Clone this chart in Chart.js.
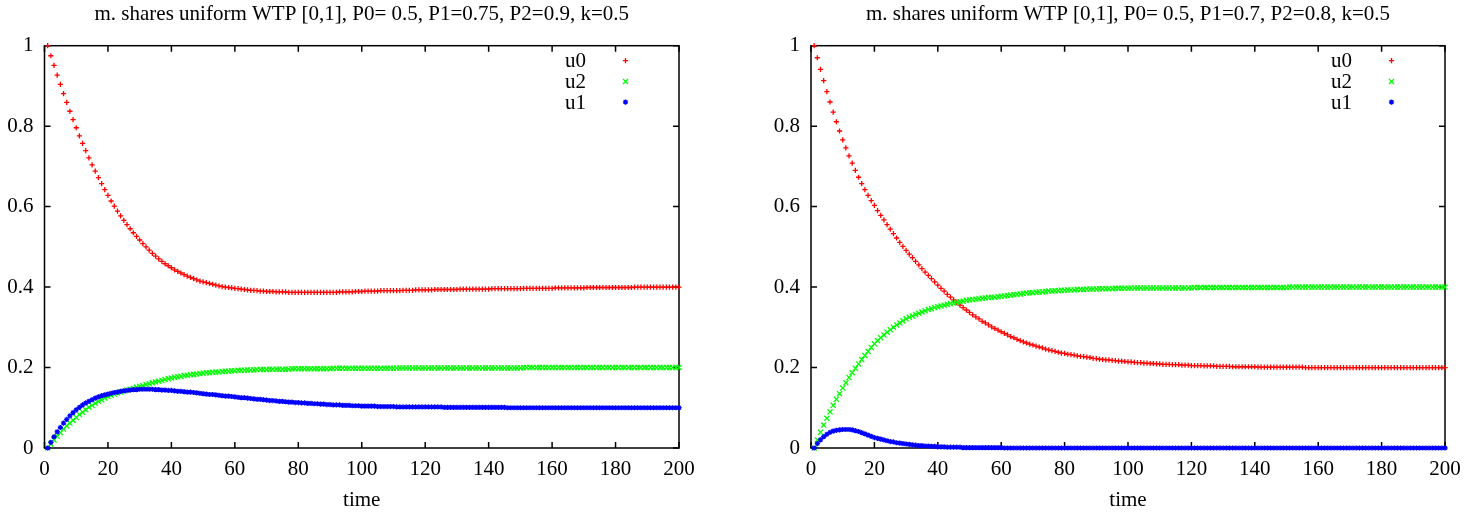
<!DOCTYPE html>
<html>
<head>
<meta charset="utf-8">
<script src="https://cdn.jsdelivr.net/npm/chart.js@4/dist/chart.umd.min.js"></script>
<style>
  html, body { margin: 0; background: #fff; }
  #wrap { position: relative; width: 1484px; height: 514px; }
  #wrap canvas { position: absolute; top: 0; }
</style>
</head>
<body>
<div id="wrap">
  <canvas id="chart-left" width="742" height="514" style="left:0"></canvas>
  <canvas id="chart-right" width="742" height="514" style="left:742px"></canvas>
</div>
<script>
// time step of the first sample; one sample per step after that
const firstStep = 1;
const xTicks = [0, 20, 40, 60, 80, 100, 120, 140, 160, 180, 200];
const yTicks = [0, 0.2, 0.4, 0.6, 0.8, 1];

const leftTitle = 'm. shares uniform WTP [0,1], P0= 0.5, P1=0.75, P2=0.9, k=0.5';
const rightTitle = 'm. shares uniform WTP [0,1], P0= 0.5, P1=0.7, P2=0.8, k=0.5';

// left panel
const leftU0 = [
  1, 0.975, 0.951, 0.927, 0.904, 0.881, 0.859, 0.837, 0.816, 0.796,
  0.776, 0.757, 0.739, 0.721, 0.704, 0.688, 0.672, 0.657, 0.642, 0.628,
  0.614, 0.601, 0.589, 0.577, 0.566, 0.555, 0.545, 0.535, 0.526, 0.517,
  0.508, 0.5, 0.492, 0.484, 0.477, 0.47, 0.464, 0.458, 0.453, 0.448,
  0.443, 0.439, 0.435, 0.431, 0.427, 0.424, 0.421, 0.418, 0.415, 0.413,
  0.411, 0.409, 0.407, 0.405, 0.403, 0.401, 0.4, 0.399, 0.398, 0.397,
  0.396, 0.395, 0.394, 0.393, 0.392, 0.392, 0.391, 0.39, 0.39, 0.389,
  0.389, 0.389, 0.388, 0.388, 0.388, 0.388, 0.387, 0.387, 0.387, 0.387,
  0.387, 0.387, 0.387, 0.387, 0.387, 0.387, 0.387, 0.387, 0.387, 0.387,
  0.387, 0.387, 0.388, 0.388, 0.388, 0.388, 0.388, 0.389, 0.389, 0.389,
  0.39, 0.39, 0.39, 0.39, 0.39, 0.391, 0.391, 0.391, 0.391, 0.391,
  0.391, 0.391, 0.392, 0.392, 0.392, 0.392, 0.393, 0.393, 0.393, 0.393,
  0.393, 0.393, 0.394, 0.394, 0.394, 0.394, 0.394, 0.394, 0.394, 0.394,
  0.395, 0.395, 0.395, 0.395, 0.395, 0.395, 0.395, 0.395, 0.395, 0.395,
  0.396, 0.396, 0.396, 0.396, 0.396, 0.396, 0.396, 0.396, 0.396, 0.396,
  0.397, 0.397, 0.397, 0.397, 0.397, 0.397, 0.397, 0.397, 0.397, 0.397,
  0.398, 0.398, 0.398, 0.398, 0.398, 0.398, 0.398, 0.398, 0.398, 0.398,
  0.399, 0.399, 0.399, 0.399, 0.399, 0.399, 0.399, 0.399, 0.399, 0.399,
  0.399, 0.399, 0.399, 0.399, 0.399, 0.4, 0.4, 0.4, 0.4, 0.4,
  0.4, 0.4, 0.4, 0.4, 0.4, 0.4, 0.4, 0.4, 0.4, 0.4,
];
const leftU2 = [
  0, 0.01, 0.02, 0.029, 0.038, 0.047, 0.055, 0.062, 0.069, 0.076,
  0.083, 0.089, 0.095, 0.101, 0.106, 0.111, 0.116, 0.12, 0.124, 0.128,
  0.131, 0.134, 0.137, 0.139, 0.141, 0.144, 0.146, 0.148, 0.151, 0.153,
  0.155, 0.158, 0.16, 0.162, 0.164, 0.166, 0.168, 0.17, 0.172, 0.174,
  0.176, 0.177, 0.178, 0.18, 0.181, 0.182, 0.183, 0.184, 0.185, 0.186,
  0.187, 0.187, 0.188, 0.189, 0.189, 0.19, 0.191, 0.191, 0.192, 0.192,
  0.193, 0.193, 0.193, 0.194, 0.194, 0.194, 0.195, 0.195, 0.195, 0.195,
  0.196, 0.196, 0.196, 0.196, 0.196, 0.196, 0.196, 0.197, 0.197, 0.197,
  0.197, 0.197, 0.197, 0.197, 0.197, 0.197, 0.197, 0.197, 0.197, 0.197,
  0.198, 0.198, 0.198, 0.198, 0.198, 0.198, 0.198, 0.198, 0.198, 0.198,
  0.198, 0.198, 0.198, 0.198, 0.198, 0.198, 0.198, 0.198, 0.198, 0.198,
  0.199, 0.199, 0.199, 0.199, 0.199, 0.199, 0.199, 0.199, 0.199, 0.199,
  0.199, 0.199, 0.199, 0.199, 0.199, 0.199, 0.199, 0.199, 0.199, 0.199,
  0.199, 0.199, 0.199, 0.199, 0.199, 0.199, 0.199, 0.199, 0.199, 0.199,
  0.199, 0.199, 0.199, 0.199, 0.199, 0.199, 0.199, 0.199, 0.199, 0.199,
  0.2, 0.2, 0.2, 0.2, 0.2, 0.2, 0.2, 0.2, 0.2, 0.2,
  0.2, 0.2, 0.2, 0.2, 0.2, 0.2, 0.2, 0.2, 0.2, 0.2,
  0.2, 0.2, 0.2, 0.2, 0.2, 0.2, 0.2, 0.2, 0.2, 0.2,
  0.2, 0.2, 0.2, 0.2, 0.2, 0.2, 0.2, 0.2, 0.2, 0.2,
  0.2, 0.2, 0.2, 0.2, 0.2, 0.2, 0.2, 0.2, 0.2, 0.2,
];
const leftU1 = [
  0, 0.014, 0.028, 0.04, 0.051, 0.062, 0.071, 0.08, 0.088, 0.095,
  0.101, 0.107, 0.112, 0.116, 0.12, 0.124, 0.127, 0.13, 0.132, 0.134,
  0.136, 0.138, 0.139, 0.141, 0.142, 0.143, 0.144, 0.145, 0.145, 0.146,
  0.146, 0.146, 0.146, 0.146, 0.145, 0.145, 0.144, 0.144, 0.143, 0.143,
  0.142, 0.141, 0.141, 0.14, 0.139, 0.139, 0.138, 0.137, 0.136, 0.135,
  0.134, 0.133, 0.133, 0.132, 0.131, 0.13, 0.129, 0.129, 0.128, 0.127,
  0.126, 0.125, 0.125, 0.124, 0.123, 0.122, 0.121, 0.121, 0.12, 0.119,
  0.118, 0.118, 0.117, 0.116, 0.116, 0.115, 0.114, 0.114, 0.113, 0.113,
  0.112, 0.112, 0.111, 0.111, 0.11, 0.11, 0.109, 0.109, 0.108, 0.108,
  0.107, 0.107, 0.107, 0.106, 0.106, 0.106, 0.105, 0.105, 0.105, 0.104,
  0.104, 0.104, 0.104, 0.104, 0.103, 0.103, 0.103, 0.103, 0.103, 0.103,
  0.102, 0.102, 0.102, 0.102, 0.102, 0.102, 0.102, 0.102, 0.102, 0.102,
  0.102, 0.102, 0.102, 0.102, 0.102, 0.101, 0.101, 0.101, 0.101, 0.101,
  0.101, 0.101, 0.101, 0.101, 0.101, 0.101, 0.101, 0.101, 0.101, 0.101,
  0.101, 0.101, 0.101, 0.101, 0.101, 0.1, 0.1, 0.1, 0.1, 0.1,
  0.1, 0.1, 0.1, 0.1, 0.1, 0.1, 0.1, 0.1, 0.1, 0.1,
  0.1, 0.1, 0.1, 0.1, 0.1, 0.1, 0.1, 0.1, 0.1, 0.1,
  0.1, 0.1, 0.1, 0.1, 0.1, 0.1, 0.1, 0.1, 0.1, 0.1,
  0.1, 0.1, 0.1, 0.1, 0.1, 0.1, 0.1, 0.1, 0.1, 0.1,
  0.1, 0.1, 0.1, 0.1, 0.1, 0.1, 0.1, 0.1, 0.1, 0.1,
];

// right panel
const rightU0 = [
  1, 0.97, 0.941, 0.913, 0.886, 0.86, 0.835, 0.811, 0.788, 0.766,
  0.746, 0.726, 0.708, 0.69, 0.673, 0.657, 0.642, 0.628, 0.615, 0.603,
  0.59, 0.578, 0.567, 0.555, 0.544, 0.533, 0.522, 0.511, 0.501, 0.491,
  0.482, 0.473, 0.464, 0.455, 0.446, 0.437, 0.429, 0.421, 0.413, 0.405,
  0.397, 0.39, 0.382, 0.375, 0.368, 0.362, 0.355, 0.349, 0.343, 0.337,
  0.331, 0.326, 0.321, 0.315, 0.311, 0.306, 0.301, 0.297, 0.293, 0.289,
  0.285, 0.281, 0.277, 0.274, 0.27, 0.267, 0.264, 0.261, 0.258, 0.256,
  0.253, 0.251, 0.249, 0.246, 0.244, 0.242, 0.24, 0.238, 0.236, 0.235,
  0.233, 0.232, 0.231, 0.229, 0.228, 0.227, 0.226, 0.225, 0.223, 0.222,
  0.221, 0.22, 0.219, 0.219, 0.218, 0.217, 0.216, 0.216, 0.215, 0.214,
  0.214, 0.213, 0.212, 0.212, 0.211, 0.211, 0.21, 0.21, 0.209, 0.209,
  0.208, 0.208, 0.208, 0.207, 0.207, 0.207, 0.206, 0.206, 0.206, 0.205,
  0.205, 0.205, 0.205, 0.204, 0.204, 0.204, 0.204, 0.203, 0.203, 0.203,
  0.203, 0.203, 0.202, 0.202, 0.202, 0.202, 0.202, 0.202, 0.202, 0.202,
  0.201, 0.201, 0.201, 0.201, 0.201, 0.201, 0.201, 0.201, 0.201, 0.201,
  0.201, 0.201, 0.201, 0.201, 0.201, 0.2, 0.2, 0.2, 0.2, 0.2,
  0.2, 0.2, 0.2, 0.2, 0.2, 0.2, 0.2, 0.2, 0.2, 0.2,
  0.2, 0.2, 0.2, 0.2, 0.2, 0.2, 0.2, 0.2, 0.2, 0.2,
  0.2, 0.2, 0.2, 0.2, 0.2, 0.2, 0.2, 0.2, 0.2, 0.2,
  0.2, 0.2, 0.2, 0.2, 0.2, 0.2, 0.2, 0.2, 0.2, 0.2,
];
const rightU2 = [
  0, 0.02, 0.039, 0.057, 0.074, 0.09, 0.106, 0.121, 0.135, 0.149,
  0.162, 0.175, 0.187, 0.198, 0.209, 0.22, 0.23, 0.24, 0.25, 0.259,
  0.267, 0.274, 0.281, 0.288, 0.294, 0.3, 0.306, 0.311, 0.316, 0.321,
  0.325, 0.328, 0.332, 0.335, 0.338, 0.341, 0.344, 0.346, 0.349, 0.351,
  0.353, 0.355, 0.357, 0.359, 0.36, 0.362, 0.364, 0.365, 0.367, 0.368,
  0.369, 0.37, 0.371, 0.372, 0.373, 0.374, 0.375, 0.375, 0.376, 0.377,
  0.378, 0.379, 0.38, 0.381, 0.382, 0.383, 0.384, 0.385, 0.386, 0.386,
  0.387, 0.388, 0.388, 0.389, 0.39, 0.39, 0.391, 0.391, 0.392, 0.392,
  0.393, 0.393, 0.393, 0.394, 0.394, 0.394, 0.395, 0.395, 0.395, 0.395,
  0.396, 0.396, 0.396, 0.396, 0.396, 0.397, 0.397, 0.397, 0.397, 0.397,
  0.398, 0.398, 0.398, 0.398, 0.398, 0.398, 0.398, 0.398, 0.398, 0.398,
  0.398, 0.398, 0.398, 0.398, 0.398, 0.398, 0.398, 0.398, 0.398, 0.398,
  0.399, 0.399, 0.399, 0.399, 0.399, 0.399, 0.399, 0.399, 0.399, 0.399,
  0.399, 0.399, 0.399, 0.399, 0.399, 0.399, 0.399, 0.399, 0.399, 0.399,
  0.399, 0.399, 0.399, 0.399, 0.399, 0.399, 0.399, 0.399, 0.399, 0.399,
  0.4, 0.4, 0.4, 0.4, 0.4, 0.4, 0.4, 0.4, 0.4, 0.4,
  0.4, 0.4, 0.4, 0.4, 0.4, 0.4, 0.4, 0.4, 0.4, 0.4,
  0.4, 0.4, 0.4, 0.4, 0.4, 0.4, 0.4, 0.4, 0.4, 0.4,
  0.4, 0.4, 0.4, 0.4, 0.4, 0.4, 0.4, 0.4, 0.4, 0.4,
  0.4, 0.4, 0.4, 0.4, 0.4, 0.4, 0.4, 0.4, 0.4, 0.4,
];
const rightU1 = [
  0, 0.011, 0.02, 0.028, 0.034, 0.039, 0.042, 0.044, 0.045, 0.046,
  0.046, 0.046, 0.045, 0.043, 0.041, 0.038, 0.035, 0.032, 0.029, 0.026,
  0.024, 0.022, 0.02, 0.018, 0.016, 0.015, 0.013, 0.012, 0.011, 0.01,
  0.009, 0.008, 0.007, 0.006, 0.006, 0.005, 0.005, 0.004, 0.004, 0.003,
  0.003, 0.003, 0.002, 0.002, 0.002, 0.002, 0.002, 0.001, 0.001, 0.001,
  0.001, 0.001, 0.001, 0.001, 0.001, 0.001, 0.001, 0.001, 0.001, 0.001,
  0, 0, 0, 0, 0, 0, 0, 0, 0, 0,
  0, 0, 0, 0, 0, 0, 0, 0, 0, 0,
  0, 0, 0, 0, 0, 0, 0, 0, 0, 0,
  0, 0, 0, 0, 0, 0, 0, 0, 0, 0,
  0, 0, 0, 0, 0, 0, 0, 0, 0, 0,
  0, 0, 0, 0, 0, 0, 0, 0, 0, 0,
  0, 0, 0, 0, 0, 0, 0, 0, 0, 0,
  0, 0, 0, 0, 0, 0, 0, 0, 0, 0,
  0, 0, 0, 0, 0, 0, 0, 0, 0, 0,
  0, 0, 0, 0, 0, 0, 0, 0, 0, 0,
  0, 0, 0, 0, 0, 0, 0, 0, 0, 0,
  0, 0, 0, 0, 0, 0, 0, 0, 0, 0,
  0, 0, 0, 0, 0, 0, 0, 0, 0, 0,
  0, 0, 0, 0, 0, 0, 0, 0, 0, 0,
];

const SERIF = "'Liberation Serif', 'Times New Roman', Times, serif";
const FONT = { family: SERIF, size: 21, weight: 'normal' };
const TICK_LEN = 6;

Chart.defaults.font.family = SERIF;
Chart.defaults.color = '#000';

function points(values) {
  return values.map((v, i) => ({ x: firstStep + i, y: v }));
}

function series(label, values, color, style, radius, width, order) {
  return {
    label,
    data: points(values),
    pointStyle: style,
    pointRadius: radius,
    pointHoverRadius: radius,
    pointBorderWidth: width,
    borderColor: color,
    backgroundColor: color,
    showLine: false,
    clip: false,
    order,
  };
}

// gnuplot-style box with inward ticks on all four sides
const framePlugin = {
  id: 'frame',
  beforeDatasetsDraw(chart) {
    const { ctx, chartArea: a, scales: { x, y } } = chart;
    ctx.save();
    ctx.strokeStyle = '#000';
    ctx.lineWidth = 1.5;
    ctx.strokeRect(a.left, a.top, a.right - a.left, a.bottom - a.top);
    ctx.beginPath();
    for (const v of xTicks) {
      const px = x.getPixelForValue(v);
      ctx.moveTo(px, a.bottom); ctx.lineTo(px, a.bottom - TICK_LEN);
      ctx.moveTo(px, a.top); ctx.lineTo(px, a.top + TICK_LEN);
    }
    for (const v of yTicks) {
      const py = y.getPixelForValue(v);
      ctx.moveTo(a.left, py); ctx.lineTo(a.left + TICK_LEN, py);
      ctx.moveTo(a.right, py); ctx.lineTo(a.right - TICK_LEN, py);
    }
    ctx.stroke();
    ctx.restore();
  },
};

// key in the top right corner: label, then a sample of the point
const keyPlugin = {
  id: 'key',
  afterDatasetsDraw(chart) {
    const { ctx, chartArea: a } = chart;
    ctx.save();
    ctx.font = `21px ${SERIF}`;
    ctx.textAlign = 'right';
    ctx.textBaseline = 'middle';
    chart.data.datasets.forEach((ds, i) => {
      const yy = a.top + 15 + i * 20.7;
      ctx.fillStyle = '#000';
      ctx.fillText(ds.label, a.right - 93, yy + 1);
      ctx.strokeStyle = ds.borderColor;
      ctx.fillStyle = ds.borderColor;
      ctx.lineWidth = ds.pointBorderWidth;
      Chart.helpers.drawPoint(ctx, {
        pointStyle: ds.pointStyle, radius: ds.pointRadius, rotation: 0, borderWidth: ds.pointBorderWidth,
      }, a.right - 53.5, yy);
    });
    ctx.restore();
  },
};

function makeChart(canvasId, title, u0, u2, u1, yAxisWidth, padRight) {
  return new Chart(document.getElementById(canvasId), {
    type: 'scatter',
    data: {
      datasets: [
        series('u0', u0, 'rgb(255,0,0)', 'cross', 2.6, 1.3, 3),
        series('u2', u2, 'rgb(0,255,0)', 'crossRot', 3.6, 1.3, 2),
        series('u1', u1, 'rgb(0,0,255)', 'star', 2.6, 1.3, 1),
      ],
    },
    options: {
      responsive: false,
      devicePixelRatio: 1,
      animation: false,
      events: [],
      layout: { padding: { left: 0, right: padRight, top: 0, bottom: 0 } },
      plugins: {
        legend: { display: false },
        tooltip: { enabled: false },
        title: {
          display: true,
          text: title,
          fullSize: false,
          color: '#000',
          font: FONT,
          padding: { top: 2, bottom: 18.5 },
        },
      },
      scales: {
        x: {
          type: 'linear',
          min: 0,
          max: 200,
          afterBuildTicks: (s) => { s.ticks = xTicks.map((v) => ({ value: v })); },
          afterFit: (s) => { s.height = 66; },
          grid: { display: false, drawTicks: false },
          border: { display: false },
          ticks: { color: '#000', font: FONT, padding: 9, maxRotation: 0, autoSkip: false, callback: (v) => String(v) },
          title: { display: true, text: 'time', color: '#000', font: FONT, padding: { top: 0, bottom: 1.4 } },
        },
        y: {
          type: 'linear',
          min: 0,
          max: 1,
          afterBuildTicks: (s) => { s.ticks = yTicks.map((v) => ({ value: v })); },
          afterFit: (s) => { s.width = yAxisWidth; },
          grid: { display: false, drawTicks: false },
          border: { display: false },
          ticks: { color: '#000', font: FONT, padding: 11, autoSkip: false, callback: (v) => String(v) },
        },
      },
    },
    plugins: [framePlugin, keyPlugin],
  });
}

makeChart('chart-left', leftTitle, leftU0, leftU2, leftU1, 44.5, 63);
makeChart('chart-right', rightTitle, rightU0, rightU2, rightU1, 69, 39);
</script>
</body>
</html>
